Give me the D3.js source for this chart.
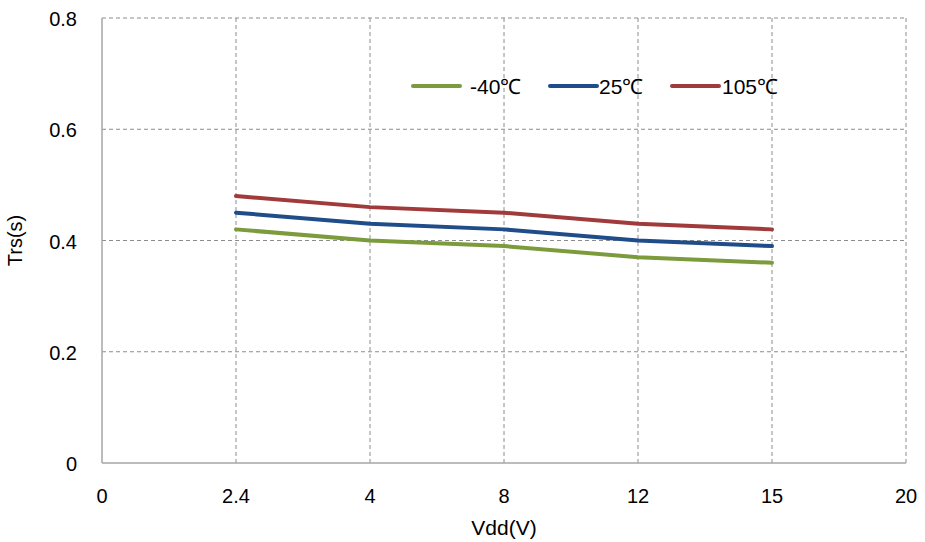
<!DOCTYPE html>
<html>
<head>
<meta charset="utf-8">
<script src="https://cdn.jsdelivr.net/npm/d3@7"></script>
<style>
  body { margin: 0; background: #fff; }
  text { font-family: "Liberation Sans", Arial, sans-serif; fill: #000; }
</style>
</head>
<body>
<svg id="chart" width="925" height="542"></svg>
<script>
// x axis is category-like: ticks are evenly spaced regardless of value
const xTicks = ["0", "2.4", "4", "8", "12", "15", "20"]
const vdd = ["2.4", "4", "8", "12", "15"]
const yTicks = [0, 0.2, 0.4, 0.6, 0.8]

const seriesNames = ["-40\u2103", "25\u2103", "105\u2103"]
const trsM40 = [0.42, 0.40, 0.39, 0.37, 0.36]
const trs25 = [0.45, 0.43, 0.42, 0.40, 0.39]
const trs105 = [0.48, 0.46, 0.45, 0.43, 0.42]

const colors = ["#7b9b3c", "#1f4d89", "#a13a3a"]

const svg = d3.select("#chart")
// plot area edges (window.top is reserved, hence the names)
const plotL = 102, plotR = 906, plotT = 18, plotB = 463

const x = d3.scalePoint().domain(xTicks).range([plotL, plotR])
const y = d3.scaleLinear().domain([0, 0.8]).range([plotB, plotT])

// grid
const grid = svg.append("g")
grid.selectAll(".gx")
  .data(xTicks.slice(1))
  .enter().append("line")
  .attr("x1", d => x(d)).attr("x2", d => x(d))
  .attr("y1", plotT).attr("y2", plotB)
  .attr("stroke", "#8c8c8c").attr("stroke-width", 1)
  .attr("stroke-dasharray", "4,3")
grid.selectAll(".gy")
  .data(yTicks.slice(1))
  .enter().append("line")
  .attr("x1", plotL).attr("x2", plotR)
  .attr("y1", d => y(d)).attr("y2", d => y(d))
  .attr("stroke", "#8c8c8c").attr("stroke-width", 1)
  .attr("stroke-dasharray", "4,3")

// axes lines
svg.append("line").attr("x1", plotL).attr("x2", plotL).attr("y1", plotT).attr("y2", plotB)
  .attr("stroke", "#a6a6a6").attr("stroke-width", 1.5)
svg.append("line").attr("x1", plotL).attr("x2", plotR).attr("y1", plotB).attr("y2", plotB)
  .attr("stroke", "#a6a6a6").attr("stroke-width", 1.5)

// tick labels
svg.selectAll(".ylab")
  .data(yTicks)
  .enter().append("text")
  .attr("x", 77).attr("y", d => y(d) + 8)
  .attr("text-anchor", "end")
  .style("font-size", "20px")
  .text(d => d === 0 ? "0" : d.toFixed(1))

svg.selectAll(".xlab")
  .data(xTicks)
  .enter().append("text")
  .attr("x", d => x(d)).attr("y", 503)
  .attr("text-anchor", "middle")
  .style("font-size", "20px")
  .text(d => d)

svg.append("text")
  .attr("x", (plotL + plotR) / 2).attr("y", 535)
  .attr("text-anchor", "middle")
  .style("font-size", "21px")
  .text("Vdd(V)")

svg.append("text")
  .attr("transform", "translate(22," + ((plotT + plotB) / 2) + ") rotate(-90)")
  .attr("text-anchor", "middle")
  .style("font-size", "20px")
  .text("Trs(s)")

// series
const series = [trsM40, trs25, trs105]
const line = d3.line()
  .x((d, i) => x(vdd[i]))
  .y(d => y(d))

svg.selectAll(".series")
  .data(series)
  .enter().append("path")
  .attr("d", d => line(d))
  .attr("fill", "none")
  .attr("stroke", (d, i) => colors[i])
  .attr("stroke-width", 4)
  .attr("stroke-linecap", "round")
  .attr("stroke-linejoin", "round")

// legend
const legendX = [413, 550, 672]
const legendTextX = [470, 599, 722]
const lg = svg.selectAll(".legend")
  .data(seriesNames)
  .enter().append("g")
lg.append("line")
  .attr("x1", (d, i) => legendX[i]).attr("x2", (d, i) => legendX[i] + 47)
  .attr("y1", 86).attr("y2", 86)
  .attr("stroke", (d, i) => colors[i])
  .attr("stroke-width", 4)
  .attr("stroke-linecap", "round")
lg.append("text")
  .attr("x", (d, i) => legendTextX[i]).attr("y", 94)
  .style("font-size", "21px")
  .text(d => d)
</script>
</body>
</html>
